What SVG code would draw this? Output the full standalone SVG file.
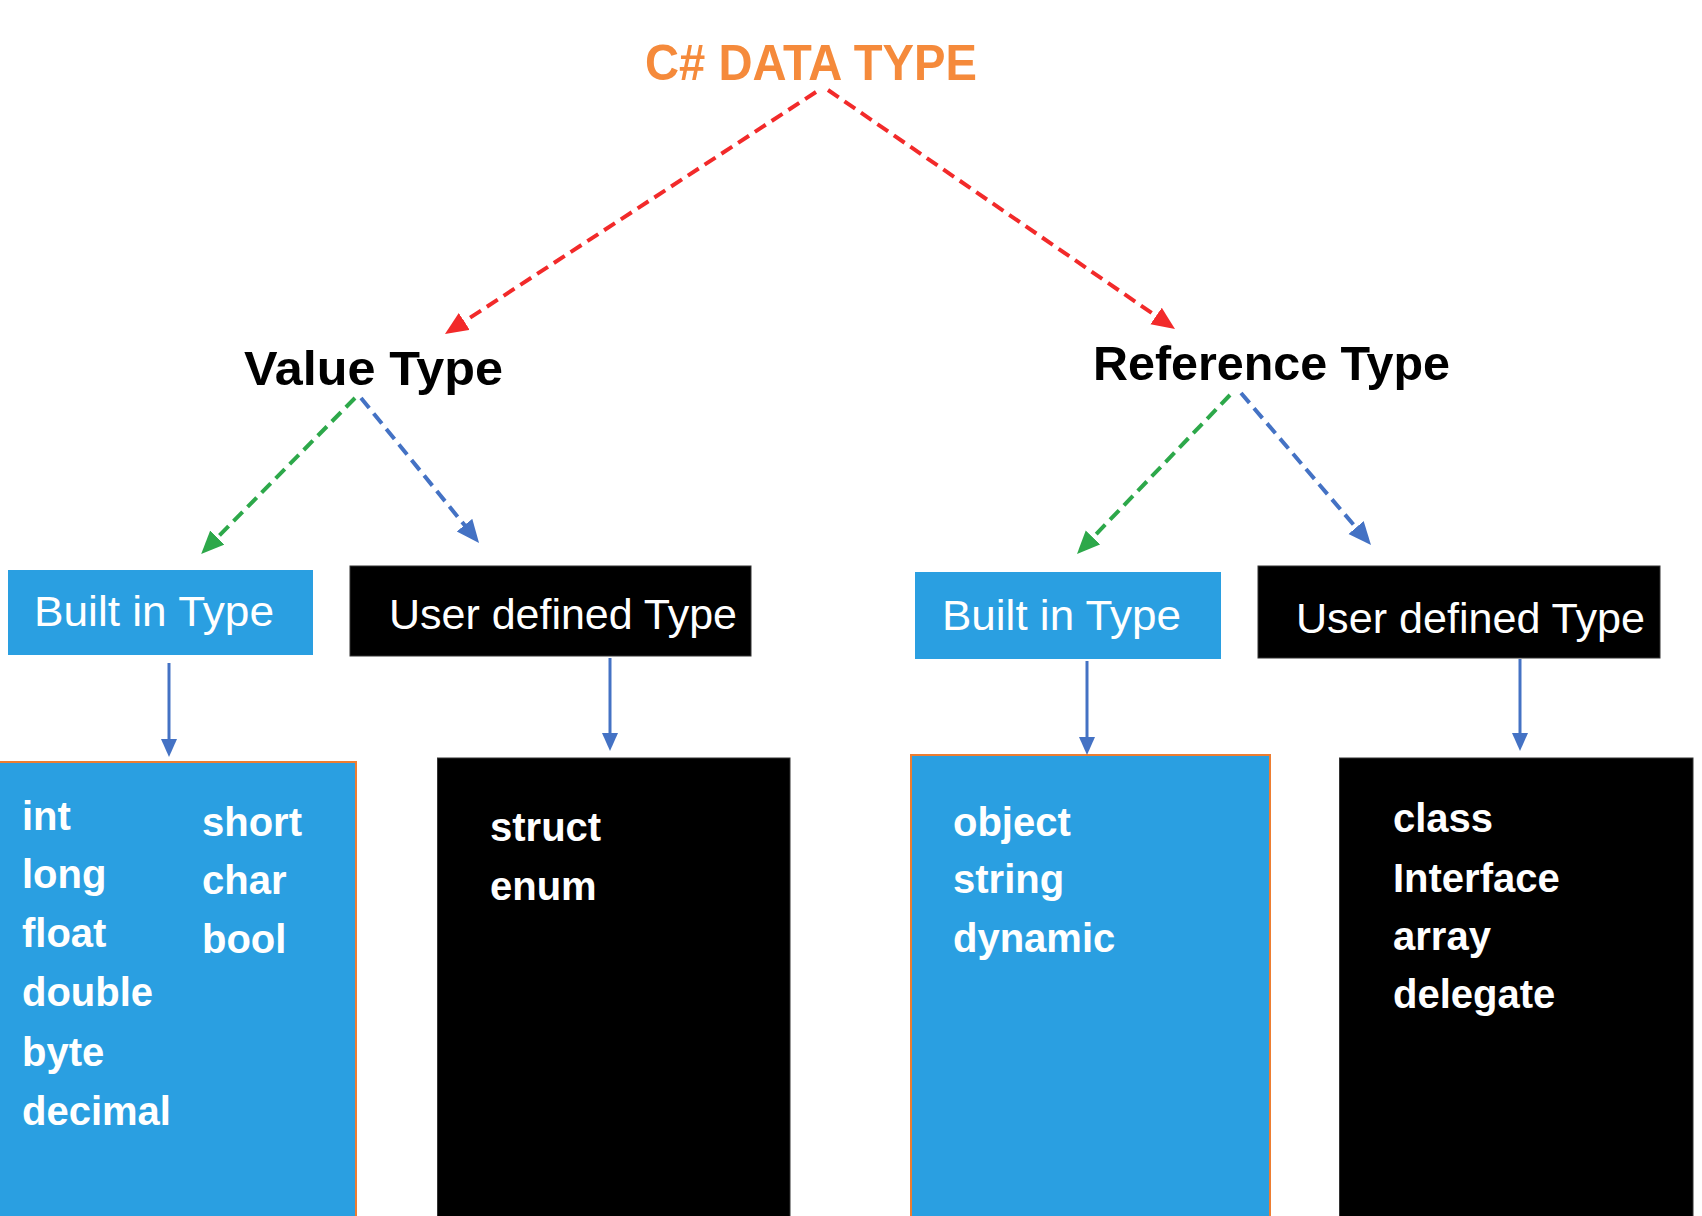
<svg xmlns="http://www.w3.org/2000/svg" width="1702" height="1216" viewBox="0 0 1702 1216">
<style>
.dash{fill:none;stroke-width:4;stroke-dasharray:13 7}
.solid{fill:none;stroke:#4472C4;stroke-width:3}
.hdr{font-family:"Liberation Sans",Arial,sans-serif;font-weight:bold;fill:#000;font-size:48px}
.lbl{font-family:"Liberation Sans",Arial,sans-serif;fill:#fff;font-size:42px}
.item{font-family:"Liberation Sans",Arial,sans-serif;font-weight:bold;fill:#fff;font-size:40px}
.blue{fill:#2A9FE1}
.blueb{fill:#2A9FE1;stroke:#ED7D31;stroke-width:2}
.black{fill:#000;stroke:#333;stroke-width:1}
</style>
<defs>
<marker id="mRed" markerUnits="userSpaceOnUse" markerWidth="26" markerHeight="22" refX="9" refY="10" orient="auto"><path d="M0,0 L23,10 L0,20 z" fill="#F22A2A"/></marker>
<marker id="mGreen" markerUnits="userSpaceOnUse" markerWidth="26" markerHeight="22" refX="9" refY="10" orient="auto"><path d="M0,0 L23,10 L0,20 z" fill="#2DA84A"/></marker>
<marker id="mBlue" markerUnits="userSpaceOnUse" markerWidth="26" markerHeight="22" refX="9" refY="10" orient="auto"><path d="M0,0 L23,10 L0,20 z" fill="#4472C4"/></marker>
<marker id="mSolid" markerUnits="userSpaceOnUse" markerWidth="20" markerHeight="18" refX="6" refY="8" orient="auto"><path d="M0,0 L18,8 L0,16 z" fill="#4472C4"/></marker>
</defs>

<g id="title">
<text x="645" y="80" font-family="Liberation Sans, Arial, sans-serif" font-weight="bold" font-size="50" fill="#F58A3B" textLength="332" lengthAdjust="spacingAndGlyphs">C# DATA TYPE</text>
</g>

<g id="value-type"><text class="hdr" x="244" y="385" font-size="49" textLength="259" lengthAdjust="spacingAndGlyphs">Value Type</text></g>
<g id="reference-type"><text class="hdr" x="1093" y="380" textLength="357" lengthAdjust="spacingAndGlyphs">Reference Type</text></g>

<g id="value-builtin"><rect class="blue" x="8" y="570" width="305" height="85"/><text class="lbl" x="34" y="626" textLength="240" lengthAdjust="spacingAndGlyphs">Built in Type</text></g>
<g id="value-userdefined"><rect class="black" x="350" y="566" width="401" height="90"/><text class="lbl" x="389" y="629" textLength="348" lengthAdjust="spacingAndGlyphs">User defined Type</text></g>
<g id="ref-builtin"><rect class="blue" x="915" y="572" width="306" height="87"/><text class="lbl" x="942" y="630" textLength="239" lengthAdjust="spacingAndGlyphs">Built in Type</text></g>
<g id="ref-userdefined"><rect class="black" x="1258" y="566" width="402" height="92"/><text class="lbl" x="1296" y="633" textLength="349" lengthAdjust="spacingAndGlyphs">User defined Type</text></g>

<g id="value-builtin-list">
<rect class="blueb" x="-2" y="762" width="358" height="460"/>
<text class="item" x="22" y="830">int</text>
<text class="item" x="22" y="888">long</text>
<text class="item" x="22" y="947">float</text>
<text class="item" x="22" y="1006">double</text>
<text class="item" x="22" y="1066">byte</text>
<text class="item" x="22" y="1125">decimal</text>
<text class="item" x="202" y="836">short</text>
<text class="item" x="202" y="894">char</text>
<text class="item" x="202" y="953">bool</text>
</g>
<g id="value-userdefined-list">
<rect class="black" x="437.5" y="758" width="352.5" height="470"/>
<text class="item" x="490" y="841">struct</text>
<text class="item" x="490" y="900">enum</text>
</g>
<g id="ref-builtin-list">
<rect class="blueb" x="911" y="755" width="359" height="470"/>
<text class="item" x="953" y="836">object</text>
<text class="item" x="953" y="893">string</text>
<text class="item" x="953" y="952">dynamic</text>
</g>
<g id="ref-userdefined-list">
<rect class="black" x="1339.5" y="758" width="353.5" height="470"/>
<text class="item" x="1393" y="832">class</text>
<text class="item" x="1393" y="892">Interface</text>
<text class="item" x="1393" y="950">array</text>
<text class="item" x="1393" y="1008">delegate</text>
</g>

<g id="connectors">
<line class="dash" stroke="#F22A2A" x1="816" y1="92" x2="456.7" y2="326.4" marker-end="url(#mRed)"/>
<line class="dash" stroke="#F22A2A" x1="828" y1="90" x2="1163.5" y2="321.1" marker-end="url(#mRed)"/>
<line class="dash" stroke="#2DA84A" x1="355" y1="398" x2="211" y2="544" marker-end="url(#mGreen)"/>
<line class="dash" stroke="#4472C4" x1="361" y1="398" x2="470.2" y2="532.1" marker-end="url(#mBlue)"/>
<line class="dash" stroke="#2DA84A" x1="1230" y1="395" x2="1086.7" y2="544" marker-end="url(#mGreen)"/>
<line class="dash" stroke="#4472C4" x1="1241" y1="393" x2="1361.9" y2="534.4" marker-end="url(#mBlue)"/>
<line class="solid" x1="169" y1="663" x2="169" y2="745" marker-end="url(#mSolid)"/>
<line class="solid" x1="610" y1="658" x2="610" y2="739" marker-end="url(#mSolid)"/>
<line class="solid" x1="1087" y1="661" x2="1087" y2="743" marker-end="url(#mSolid)"/>
<line class="solid" x1="1520" y1="659" x2="1520" y2="739" marker-end="url(#mSolid)"/>
</g>
</svg>
